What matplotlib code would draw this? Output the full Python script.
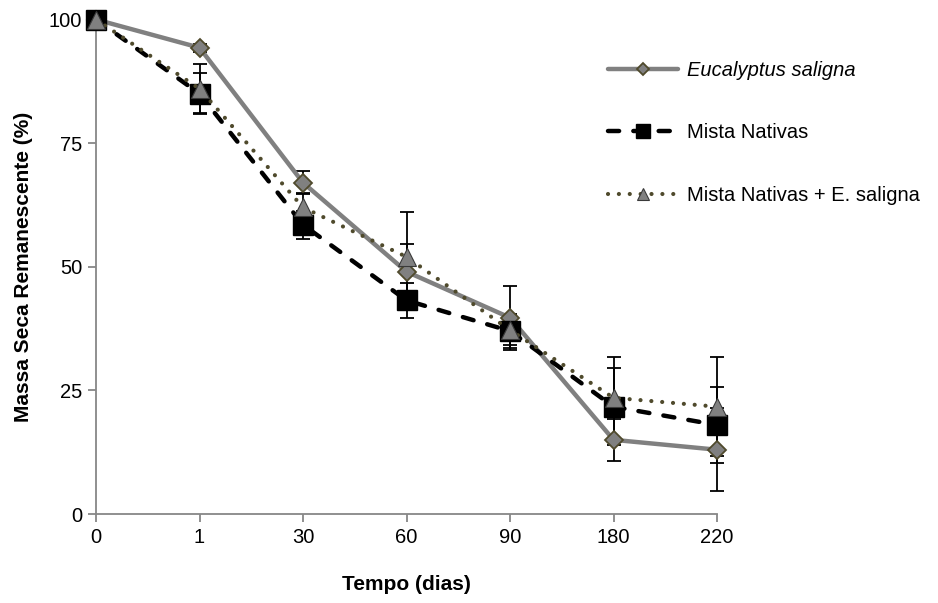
import matplotlib
matplotlib.use("Agg")
import matplotlib.pyplot as plt
import numpy as np

plt.rcParams['font.family'] = ['Liberation Sans', 'DejaVu Sans']

# Sampling days (categorical axis)
dias = ['0', '1', '30', '60', '90', '180', '220']

# Remaining dry mass (%) and standard errors per treatment
eucalyptus = [100, 94.3, 67.0, 49.0, 39.7, 15.0, 13.0]
eucalyptus_err = [0, 0.8, 2.3, 5.5, 6.5, 4.3, 8.4]

nativas = [100, 85.0, 58.5, 43.2, 37.0, 21.7, 18.0]
nativas_err = [0, 4.2, 2.8, 3.5, 3.5, 7.8, 7.6]

mista = [100, 86.0, 62.0, 52.0, 37.2, 23.5, 21.7]
mista_err = [0, 5.0, 3.0, 9.0, 3.0, 8.2, 10.0]

fig = plt.figure(figsize=(9.38, 6.03), dpi=100)
ax = fig.add_axes([96 / 938, 89 / 603, (717 - 96) / 938, (514 - 19.5) / 603])

x = np.arange(len(dias))
olive = '#4f4a2c'
gray = '#808080'

# error bars (beneath the markers)
for vals, errs in [(eucalyptus, eucalyptus_err), (nativas, nativas_err), (mista, mista_err)]:
    ax.errorbar(x, vals, yerr=errs, fmt='none', ecolor='black', elinewidth=1.3,
                capsize=5, capthick=1.3, zorder=2, clip_on=False)

ax.plot(x, eucalyptus, color=gray, lw=3.2, solid_capstyle='round',
        marker='D', markersize=9, markerfacecolor=gray, markeredgecolor=olive,
        markeredgewidth=1.3, label='Eucalyptus saligna', zorder=3, clip_on=False)

ax.plot(x, nativas, color='black', lw=3.2, linestyle=(0, (2.5, 3.2)),
        dash_capstyle='round', marker='s', markersize=14, markerfacecolor='black',
        markeredgecolor='black', label='Mista Nativas', zorder=4, clip_on=False)

ax.plot(x, mista, color=olive, lw=3.0, linestyle=(0, (0.01, 2.6)),
        dash_capstyle='round', marker='^', markersize=13, markerfacecolor=gray,
        markeredgecolor='#3a3a3a', markeredgewidth=0.8,
        label='Mista Nativas + E. saligna', zorder=5, clip_on=False)

ax.set_xlim(0, len(dias) - 1)
ax.set_ylim(0, 100)
ax.set_xticks(x)
ax.set_xticklabels(dias)
ax.set_yticks([0, 25, 50, 75, 100])

for side in ['top', 'right']:
    ax.spines[side].set_visible(False)
for side in ['left', 'bottom']:
    ax.spines[side].set_color('#878787')
    ax.spines[side].set_linewidth(1.3)
ax.tick_params(axis='both', direction='out', length=6, width=1.3, color='#878787',
               labelsize=14.5, pad=4)

ax.set_xlabel('Tempo (dias)', fontsize=15, fontweight='bold', labelpad=20)
ax.set_ylabel('Massa Seca Remanescente (%)', fontsize=15, fontweight='bold', labelpad=11)

leg = fig.legend(loc='upper left', bbox_to_anchor=(608 / 938, 1 - 61 / 603), frameon=False,
                 fontsize=14.5, handlelength=3.5, handletextpad=0.4, labelspacing=2.15,
                 borderpad=0, borderaxespad=0, markerscale=0.7)
leg.get_texts()[0].set_fontstyle('italic')

fig.savefig('out.png', dpi=100)
